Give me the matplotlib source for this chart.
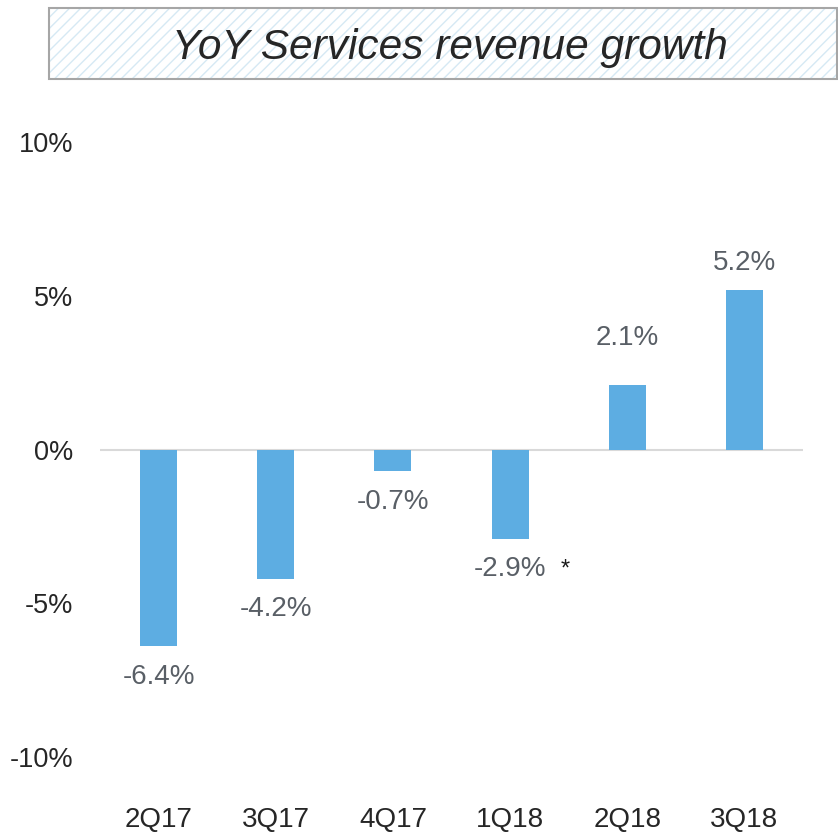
import matplotlib
matplotlib.use("Agg")
import matplotlib.pyplot as plt
from matplotlib.patches import Rectangle
from matplotlib.ticker import FuncFormatter

plt.rcParams['font.family'] = ['Liberation Sans', 'DejaVu Sans']
plt.rcParams['hatch.linewidth'] = 1.0

categories = ["2Q17", "3Q17", "4Q17", "1Q18", "2Q18", "3Q18"]
growth = [-6.4, -4.2, -0.7, -2.9, 2.1, 5.2]
label_texts = ["-6.4%", "-4.2%", "-0.7%", "-2.9%", "2.1%", "5.2%"]
yticks = [-10, -5, 0, 5, 10]
title = "YoY Services revenue growth"

fig = plt.figure(figsize=(8.38, 8.36), dpi=100)
ax = fig.add_axes([100/838, 79/836, 703/838, 615/836])

x = list(range(len(categories)))
bars = ax.bar(x, growth, width=0.315, color="#5DADE2", zorder=2)
ax.axhline(0, color="#d9d9d9", lw=1.5, zorder=1)

ax.set_xlim(-0.5, len(categories) - 0.5)
ax.set_ylim(-10, 10)
ax.set_yticks(yticks)
ax.yaxis.set_major_formatter(FuncFormatter(lambda v, p: f"{v:.0f}%"))
ax.set_xticks(x)
ax.set_xticklabels(categories)
for s in ax.spines.values():
    s.set_visible(False)
ax.tick_params(axis='y', length=0, pad=19, labelsize=19.5, labelcolor="#262626")
ax.tick_params(axis='x', length=0, pad=36, labelsize=20, labelcolor="#262626")

for i, (xi, v, t) in enumerate(zip(x, growth, label_texts)):
    if v >= 0:
        off = 34 if i == 4 else 19
    else:
        off = -22
    ax.annotate(t, (xi, v), xytext=(0, off), textcoords="offset points",
                ha="center", va="center", fontsize=20, color="#595f66")
    if t == "-2.9%":
        ax.annotate("*", (xi, v), xytext=(40, off), textcoords="offset points",
                    ha="center", va="center", fontsize=17, color="#1a1a1a")

# Title box
x0, y0, w, h = 49/838, 757/836, 788/838, 71/836
fig.patches.append(Rectangle((x0, y0), w, h, transform=fig.transFigure,
                             facecolor="white", edgecolor="#d6e9f4", lw=0,
                             hatch="///", zorder=0))
fig.patches.append(Rectangle((x0, y0), w, h, transform=fig.transFigure,
                             facecolor="none", edgecolor="#a6a6a6", lw=1.5,
                             zorder=1))
fig.text(450/838, 1 - 48/836, title, ha="center", va="center",
         fontsize=30.5, style="italic", color="#262626")

fig.savefig("out.png", dpi=100)
